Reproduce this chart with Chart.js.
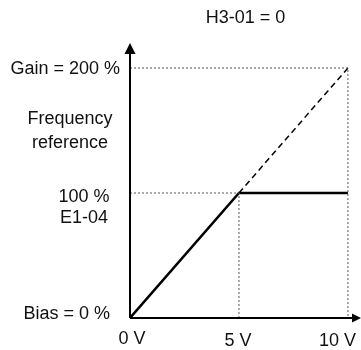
<!DOCTYPE html>
<html>
<head>
<meta charset="utf-8">
<script src="https://cdn.jsdelivr.net/npm/chart.js@4.4.1/dist/chart.umd.min.js"></script>
<style>
    html, body { margin: 0; padding: 0; background: #fff; }
    #wrap { width: 361px; height: 350px; }
</style>
</head>
<body>
<div id="wrap"><canvas id="biasChart"></canvas></div>
<script>
// Input voltage (V) vs frequency reference (%)
const volts = [0, 5, 10];
const output = [0, 100, 100];
const gainVolts = [5, 10];
const gainOutput = [100, 200];

// Tick marks and their labels
const xTicks = [0, 5, 10];
const xLabels = ['0 V', '5 V', '10 V'];
const yTicks = [0, 100, 200];
const yLabels = [['Bias = 0 %'], ['100 %', 'E1-04'], ['Gain = 200 %']];
const yTitle = ['Frequency', 'reference'];
const chartTitle = 'H3-01 = 0';

const FONT = '18px "Liberation Sans", Arial, sans-serif';

function pts(xs, ys) {
    return xs.map((x, i) => ({ x: x, y: ys[i] }));
}

// Draw axes with arrows and all text labels
const annotate = {
    id: 'annotate',
    afterDatasetsDraw(chart) {
        const ctx = chart.ctx;
        const xs = chart.scales.x;
        const ys = chart.scales.y;
        const area = chart.chartArea;
        const x0 = xs.getPixelForValue(0);
        const y0 = ys.getPixelForValue(0);

        ctx.save();
        ctx.strokeStyle = '#000';
        ctx.fillStyle = '#000';
        ctx.lineWidth = 2;
        // y axis
        ctx.beginPath();
        ctx.moveTo(x0, y0);
        ctx.lineTo(x0, area.top + 8);
        ctx.stroke();
        ctx.beginPath();
        ctx.moveTo(x0, area.top);
        ctx.lineTo(x0 - 5.5, area.top + 11);
        ctx.lineTo(x0 + 5.5, area.top + 11);
        ctx.closePath();
        ctx.fill();
        // x axis
        ctx.beginPath();
        ctx.moveTo(x0, y0);
        ctx.lineTo(area.right - 6, y0);
        ctx.stroke();
        ctx.beginPath();
        ctx.moveTo(area.right, y0);
        ctx.lineTo(area.right - 9, y0 - 4.5);
        ctx.lineTo(area.right - 9, y0 + 4.5);
        ctx.closePath();
        ctx.fill();

        ctx.font = FONT;
        ctx.fillStyle = '#111';
        ctx.textBaseline = 'middle';

        // title
        ctx.textAlign = 'center';
        ctx.fillText(chartTitle, (area.left + area.right) / 2, 18);

        // x labels
        xTicks.forEach((v, i) => {
            const w = ctx.measureText(xLabels[i]).width;
            const px = Math.min(xs.getPixelForValue(v), chart.width - w / 2 - 4);
            const off = v === 0 ? 21 : 23;
            ctx.fillText(xLabels[i], v === 0 ? px + 2 : px - 1, y0 + off);
        });

        // y labels
        yTicks.forEach((v, i) => {
            const py = ys.getPixelForValue(v);
            const lines = yLabels[i];
            if (lines.length > 1) {
                ctx.textAlign = 'center';
                lines.forEach((t, j) => ctx.fillText(t, x0 - 46, py + 4 + j * 21.5));
            } else if (v === 0) {
                ctx.textAlign = 'right';
                ctx.fillText(lines[0], x0 - 20, py - 4);
            } else {
                ctx.textAlign = 'right';
                ctx.fillText(lines[0], x0 - 10, py + 1);
            }
        });

        // y title
        ctx.textAlign = 'center';
        const ty = ys.getPixelForValue(150);
        yTitle.forEach((t, j) => ctx.fillText(t, x0 - 60, ty - 11 + j * 24));
        ctx.restore();
    }
};

new Chart(document.getElementById('biasChart'), {
    type: 'scatter',
    data: {
        datasets: [
            {
                // guide at gain level
                data: pts([0, 10, 10], [200, 200, 0]),
                showLine: true,
                borderColor: '#555',
                borderWidth: 1,
                borderDash: [2, 2],
                pointRadius: 0
            },
            {
                // guide at 100 %
                data: pts([0, 5, 5], [100, 100, 0]),
                showLine: true,
                borderColor: '#555',
                borderWidth: 1,
                borderDash: [2, 2],
                pointRadius: 0
            },
            {
                data: pts(gainVolts, gainOutput),
                showLine: true,
                borderColor: '#000',
                borderWidth: 1.5,
                borderDash: [6, 4],
                pointRadius: 0
            },
            {
                data: pts(volts, output),
                showLine: true,
                borderColor: '#000',
                borderWidth: 2.5,
                pointRadius: 0
            }
        ]
    },
    options: {
        responsive: true,
        maintainAspectRatio: false,
        animation: false,
        layout: { padding: { left: 130, right: 0, top: 43, bottom: 32 } },
        plugins: {
            legend: { display: false },
            tooltip: { enabled: false }
        },
        scales: {
            x: { type: 'linear', min: 0, max: 10.6, display: false },
            y: { type: 'linear', min: 0, max: 220, display: false }
        }
    },
    plugins: [annotate]
});
</script>
</body>
</html>
